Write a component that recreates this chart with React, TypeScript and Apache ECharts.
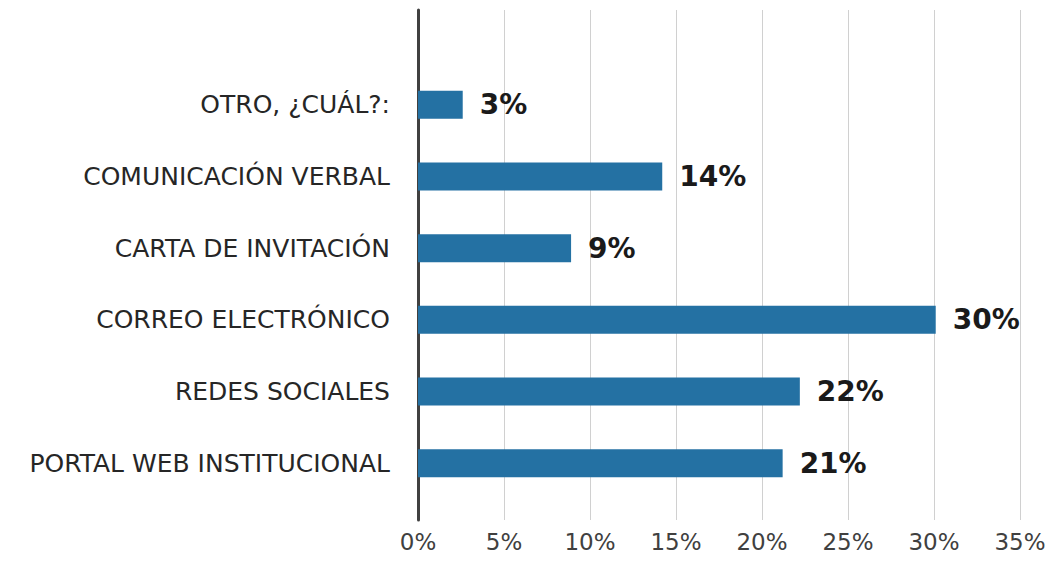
import React, { useEffect, useRef } from "react";
import * as echarts from "echarts";

const categories = [
  "PORTAL WEB INSTITUCIONAL",
  "REDES SOCIALES",
  "CORREO ELECTRÓNICO",
  "CARTA DE INVITACIÓN",
  "COMUNICACIÓN VERBAL",
  "OTRO, ¿CUÁL?:",
];
const values = [21.2, 22.2, 30.1, 8.9, 14.2, 2.6];
const valueLabels = ["21%", "22%", "30%", "9%", "14%", "3%"];
const xMin = 0;
const xMax = 35;
const xInterval = 5;

export default function App() {
  const ref = useRef<HTMLDivElement>(null);
  useEffect(() => {
    document.body.style.margin = "0";
    if (!ref.current) return;
    const chart = echarts.init(ref.current, undefined, { renderer: "svg" });
    const font = "DejaVu Sans";
    chart.setOption({
      animation: false,
      backgroundColor: "#ffffff",
      grid: [
        { left: 418, right: 29, top: 10, bottom: 41 },
        { left: 418, right: 29, top: 69, bottom: 62 },
      ],
      xAxis: [
        {
          type: "value",
          gridIndex: 0,
          min: xMin,
          max: xMax,
          interval: xInterval,
          axisLine: { show: false },
          axisTick: { show: false },
          splitLine: { show: true, lineStyle: { color: "#d0d0d0", width: 1 } },
          axisLabel: {
            formatter: "{value}%",
            fontFamily: font,
            fontSize: 23,
            color: "#404040",
            margin: 10,
          },
        },
        {
          type: "value",
          gridIndex: 1,
          min: xMin,
          max: xMax,
          show: false,
        },
      ],
      yAxis: [
        {
          type: "value",
          gridIndex: 0,
          min: 0,
          max: 1,
          axisLine: { show: true, onZero: false, lineStyle: { color: "#404040", width: 3 } },
          axisTick: { show: false },
          axisLabel: { show: false },
          splitLine: { show: false },
        },
        {
          type: "category",
          gridIndex: 1,
          data: categories,
          axisLine: { show: false },
          axisTick: { show: false },
          splitLine: { show: false },
          axisLabel: {
            fontFamily: font,
            fontSize: 25,
            color: "#262626",
            margin: 28,
          },
        },
      ],
      series: [
        {
          type: "bar",
          xAxisIndex: 1,
          yAxisIndex: 1,
          data: values,
          barWidth: 28,
          itemStyle: { color: "#2471a3" },
          label: {
            show: true,
            position: "right",
            distance: 17,
            formatter: (p: any) => valueLabels[p.dataIndex],
            fontFamily: font,
            fontWeight: "bold",
            fontSize: 28,
            color: "#1a1a1a",
          },
        },
      ],
    });
    return () => chart.dispose();
  }, []);
  return <div ref={ref} style={{ width: 1049, height: 561 }} />;
}
